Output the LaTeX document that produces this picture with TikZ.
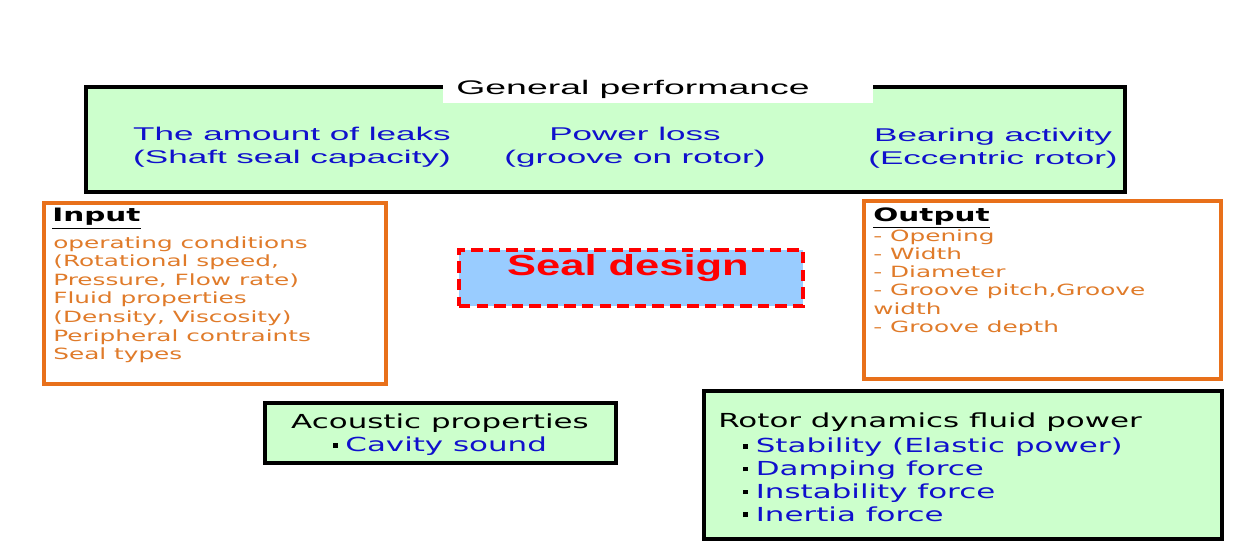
\documentclass[tikz,border=0pt]{standalone}
\usepackage{fontspec}
\setmainfont{DejaVu Sans}[FakeStretch=1.6]
\newfontfamily\pgothic{Liberation Sans}[FakeStretch=1.9]
\newfontfamily\sealfont{Liberation Sans}[FakeStretch=1.5]
\usepackage{xcolor}
\usetikzlibrary{positioning,fit}

\definecolor{panelgreen}{HTML}{CCFFCC}
\definecolor{sealblue}{HTML}{99CCFF}
\definecolor{lineorange}{HTML}{E8701A}
\definecolor{textorange}{HTML}{E07B2A}
\definecolor{itemblue}{HTML}{1010CC}
\newcommand{\sqbullet}{\rule[0.22em]{0.24em}{0.24em}\hspace{0.4em}}

\begin{document}
\begin{tikzpicture}[
    x=0.02cm, y=-0.02cm,
    panel/.style={draw=black, line width=2pt, fill=panelgreen, inner sep=0pt},
    listbox/.style={draw=lineorange, line width=2pt, fill=white, inner sep=0pt},
    sealbox/.style={draw=red, dash pattern=on 6.5pt off 3.5pt, line width=2pt, fill=sealblue, inner sep=0pt},
    perftext/.style={font=\pgothic\fontsize{10.5}{13}\selectfont, text=itemblue, align=center, inner sep=0pt},
    listtitle/.style={font=\bfseries\fontsize{10.5}{12}\selectfont, anchor=north west, inner sep=0pt},
    listtext/.style={font=\fontsize{8.8}{10.6}\selectfont, text=textorange, align=left, anchor=north west, inner sep=0pt},
    paneltext/.style={font=\fontsize{11}{13}\selectfont, align=left, inner sep=0pt},
]
\useasboundingbox (0,0) rectangle (1246,557);

% General performance (top)
\node[panel, fit={(86,87) (1125,192)}] (perf) {};
\node[fill=white, inner sep=0pt, fit={(443,80) (873,103)}] (perftitlebg) {};
\node[font=\pgothic\fontsize{11.2}{13}\selectfont, inner sep=0pt] (perftitle) at (633,89) {General performance};
\node[perftext] (leaks) at (292,147) {The amount of leaks\\(Shaft seal capacity)};
\node[perftext] (loss) at (635,147) {Power loss\\(groove on rotor)};
\node[perftext] (bearing) at (993,148) {Bearing activity\\(Eccentric rotor)};

% Input / Output
\node[listbox, fit={(44,203) (386,384)}] (inbox) {};
\node[listtitle] (intitle) at (52,208) {\underline{Input}};
\node[listtext] (inlist) at (53,236) {operating conditions\\(Rotational speed,\\Pressure, Flow rate)\\Fluid properties\\(Density, Viscosity)\\Peripheral contraints\\Seal types};

\node[listbox, fit={(864,201) (1221,379)}] (outbox) {};
\node[listtitle] (outtitle) at (873,207) {\underline{Output}};
\node[listtext, font=\fontsize{8.8}{10.4}\selectfont] (outlist) at (873,229) {- Opening\\- Width\\- Diameter\\- Groove pitch,Groove\\width\\- Groove depth};

% Seal design (centre)
\node[sealbox, fit={(459,250) (803,306)}] (seal) {};
\node[font=\sealfont\bfseries\fontsize{16.5}{18}\selectfont, text=red, inner sep=0pt] (sealtext) at (628,268) {Seal design};

% Acoustic / rotor dynamics (bottom)
\node[panel, fit={(265,403) (616,463)}] (acoustic) {};
\node[paneltext, align=center] (acoustictext) at (440,435) {Acoustic properties\\\sqbullet\textcolor{itemblue}{Cavity sound}};

\node[panel, fit={(704,391) (1222,539)}] (rotor) {};
\node[paneltext, anchor=north west] (rotortext) at (718,412) {Rotor dynamics fluid power\\[0.15em]
  \hspace*{1.3em}\sqbullet\textcolor{itemblue}{Stability (Elastic power)}\\
  \hspace*{1.3em}\sqbullet\textcolor{itemblue}{Damping force}\\
  \hspace*{1.3em}\sqbullet\textcolor{itemblue}{Instability force}\\
  \hspace*{1.3em}\sqbullet\textcolor{itemblue}{Inertia force}};

\end{tikzpicture}
\end{document}
